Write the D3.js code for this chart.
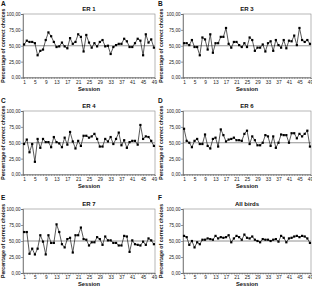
<!DOCTYPE html>
<html>
<head>
<meta charset="utf-8">
<script src="https://cdn.jsdelivr.net/npm/d3@7"></script>
<style>
  body { margin: 0; background: #fff; }
  svg { display: block; font-family: Arial, "Liberation Sans", sans-serif; }
</style>
</head>
<body>
<div id="chart"></div>
<script>
// percentage of correct choices per session
var sessions = d3.range(1, 50);
var er1 = [52, 58, 56, 56, 54, 35, 42, 44, 59, 71, 65, 56, 48, 49, 55, 49, 46, 62, 53, 56,
    68, 64, 41, 67, 55, 47, 54, 49, 56, 59, 49, 50, 37, 48, 51, 53, 53, 61, 57, 48,
    48, 54, 61, 58, 35, 68, 55, 60, 47];
var er3 = [54, 54, 51, 59, 48, 48, 35, 63, 60, 44, 68, 39, 54, 54, 64, 64, 78, 53, 47, 56,
    56, 51, 48, 54, 48, 63, 59, 42, 47, 47, 52, 41, 54, 57, 42, 59, 51, 47, 59, 46,
    58, 57, 66, 51, 78, 59, 56, 59, 53];
var er4 = [48, 55, 35, 48, 20, 56, 42, 56, 51, 51, 43, 59, 51, 49, 43, 58, 47, 67, 52, 41,
    53, 45, 61, 61, 58, 60, 64, 56, 44, 44, 56, 52, 59, 48, 56, 66, 46, 54, 42, 51,
    53, 53, 47, 78, 56, 60, 59, 53, 45];
var er6 = [72, 53, 50, 43, 53, 56, 48, 48, 63, 45, 41, 56, 58, 44, 71, 62, 52, 55, 56, 58,
    54, 54, 53, 64, 69, 48, 60, 54, 46, 46, 50, 62, 60, 45, 60, 42, 50, 63, 62, 62,
    50, 65, 65, 57, 64, 60, 64, 69, 44];
var er7 = [64, 64, 30, 38, 29, 38, 59, 49, 29, 59, 47, 47, 76, 64, 45, 40, 53, 55, 32, 59,
    59, 71, 53, 52, 43, 48, 48, 56, 53, 44, 57, 51, 51, 47, 47, 43, 43, 58, 57, 33,
    51, 45, 44, 43, 49, 44, 54, 51, 45];
var allBirds = [58, 56, 44, 50, 40, 48, 45, 52, 52, 54, 53, 52, 58, 54, 56, 55, 56, 59, 48, 54,
    58, 56, 52, 60, 55, 54, 57, 52, 50, 48, 53, 52, 52, 50, 52, 53, 49, 58, 55, 48,
    54, 55, 57, 58, 56, 58, 57, 54, 47];

var letters = ['A', 'B', 'C', 'D', 'E', 'F'];
var titles = ['ER 1', 'ER 3', 'ER 4', 'ER 6', 'ER 7', 'All birds'];
var series = [er1, er3, er4, er6, er7, allBirds];
var yTicks = [0, 25, 50, 75, 100];
var xTicks = [1, 5, 9, 13, 17, 21, 25, 29, 33, 37, 41, 45, 49];

var W = 312, H = 290;
var svg = d3.select('#chart').append('svg')
    .attr('width', W)
    .attr('height', H);

var fmt = function (d) { return d3.format('.2f')(d).replace('.', ','); };

series.forEach(function (vals, i) {
    var col = i % 2, row = Math.floor(i / 2);
    var ox = col * 156, oy = [0, 97, 194][row];
    var left = col === 0 ? 23 : 27,
        right = 155,
        top = row === 2 ? 15 : 14,
        bottom = row === 2 ? 79 : 77.5;

    var g = svg.append('g').attr('transform', 'translate(' + ox + ',' + oy + ')');

    var x = d3.scaleLinear().domain([0.6, 49.4]).range([left, right]);
    var y = d3.scaleLinear().domain([0, 100]).range([bottom, top]);

    // plot frame
    g.append('rect')
        .attr('x', left).attr('y', top)
        .attr('width', right - left).attr('height', bottom - top)
        .attr('fill', 'none').attr('stroke', '#888').attr('stroke-width', 0.6);

    // chance line at 50 %
    g.append('line')
        .attr('x1', left).attr('x2', right)
        .attr('y1', y(50)).attr('y2', y(50))
        .attr('stroke', '#777').attr('stroke-width', 0.8);

    var yAxis = g.append('g')
        .attr('transform', 'translate(' + left + ',0)')
        .call(d3.axisLeft(y).tickValues(yTicks).tickSize(2).tickFormat(fmt));
    yAxis.select('.domain').attr('stroke', '#555').attr('stroke-width', 0.6);
    yAxis.selectAll('.tick line').attr('stroke', '#555').attr('stroke-width', 0.6);
    yAxis.selectAll('text').attr('font-size', 4.6).attr('x', -2.5).attr('fill', '#222');

    var xAxis = g.append('g')
        .attr('transform', 'translate(0,' + bottom + ')')
        .call(d3.axisBottom(x).tickValues(sessions).tickSize(1.5)
            .tickFormat(function (d) { return xTicks.indexOf(d) >= 0 ? d : ''; }));
    xAxis.select('.domain').attr('stroke', '#555').attr('stroke-width', 0.6);
    xAxis.selectAll('.tick line').attr('stroke', '#555').attr('stroke-width', 0.5);
    xAxis.selectAll('text').attr('font-size', 4.8).attr('y', 3).attr('fill', '#222');

    var line = d3.line()
        .x(function (d, k) { return x(sessions[k]); })
        .y(function (d) { return y(d); });

    g.append('path')
        .datum(vals)
        .attr('d', line)
        .attr('fill', 'none')
        .attr('stroke', '#111')
        .attr('stroke-width', 0.7);

    g.selectAll('rect.pt')
        .data(vals)
        .enter().append('rect')
        .attr('class', 'pt')
        .attr('x', function (d, k) { return x(sessions[k]) - 1.1; })
        .attr('y', function (d) { return y(d) - 1.1; })
        .attr('width', 2.2).attr('height', 2.2)
        .attr('fill', '#000');

    g.append('text')
        .attr('x', (left + right) / 2).attr('y', top - 3)
        .attr('text-anchor', 'middle')
        .attr('font-size', 6).attr('font-weight', 'bold')
        .attr('fill', '#111')
        .text(titles[i]);

    g.append('text')
        .attr('x', (left + right) / 2).attr('y', bottom + 13)
        .attr('text-anchor', 'middle')
        .attr('font-size', 5.8).attr('font-weight', 'bold')
        .attr('fill', '#111')
        .text('Session');

    g.append('text')
        .attr('transform', 'translate(' + (col === 0 ? 5 : 7) + ',' + ((top + bottom) / 2) + ') rotate(-90)')
        .attr('text-anchor', 'middle')
        .attr('font-size', 5.2).attr('font-weight', 'bold')
        .attr('fill', '#111')
        .text('Percentage of correct choices');

    g.append('text')
        .attr('x', col === 0 ? 1 : 2).attr('y', 6)
        .attr('font-size', 6.5).attr('font-weight', 'bold')
        .attr('fill', '#111')
        .text(letters[i]);
});
</script>
</body>
</html>
